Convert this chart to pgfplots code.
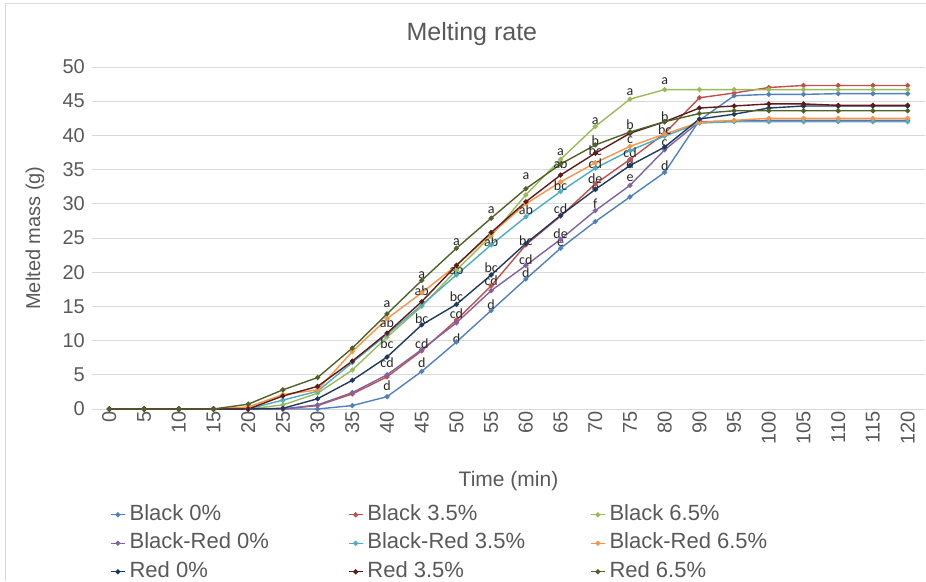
\documentclass[border=0pt]{standalone}
\usepackage{fontspec}
\setmainfont{Liberation Sans}
\newfontfamily\lblfont{Carlito}
\usepackage{pgfplots}
\usepackage{pgfplotstable}
\pgfplotsset{compat=1.18}
\definecolor{cBlackA}{HTML}{4F81BD}
\definecolor{cBlackB}{HTML}{C0504D}
\definecolor{cBlackC}{HTML}{9BBB59}
\definecolor{cBRA}{HTML}{8064A2}
\definecolor{cBRB}{HTML}{4BACC6}
\definecolor{cBRC}{HTML}{F79646}
\definecolor{cRedA}{HTML}{1F3A5F}
\definecolor{cRedB}{HTML}{5E1B19}
\definecolor{cRedC}{HTML}{4F6228}
\definecolor{gridgray}{HTML}{D9D9D9}
\definecolor{textgray}{HTML}{595959}
\definecolor{lblgray}{HTML}{262626}

% idx: 0..23  <->  time 0,5,...,80,90,...,120
\pgfplotstableread{
x  bA    bB    bC    brA   brB   brC   rA    rB    rC
0  0     0     0     0     0     0     0     0     0
1  0     0     0     0     0     0     0     0     0
2  0     0     0     0     0     0     0     0     0
3  0     0     0     0     0     0     0     0     0
4  0     0     0     0     0     0.3   0     0     0.7
5  0     0     0.6   0     1.3   2.1   0.1   1.9   2.8
6  0     0.5   2.3   0.6   2.6   2.8   1.5   3.3   4.6
7  0.5   2.2   5.7   2.4   6.8   8.4   4.2   7.0   8.9
8  1.8   4.7   10.5  5.0   10.9  13.2  7.6   11.1  13.9
9  5.5   8.5   15.0  8.7   15.2  17.0  12.3  15.7  18.8
10 9.8   13.0  20.3  12.6  19.6  21.0  15.3  21.0  23.5
11 14.4  18.0  25.3  17.3  24.0  25.6  19.6  25.8  27.9
12 19.0  24.0  31.3  21.0  28.1  30.0  24.2  30.3  32.2
13 23.5  28.2  36.5  24.8  31.8  33.2  28.3  34.2  35.8
14 27.4  32.9  41.3  29.0  35.2  36.0  32.1  37.4  38.6
15 31.0  36.5  45.3  32.7  37.8  38.4  35.6  40.3  40.5
16 34.6  40.3  46.7  37.9  39.9  40.2  38.3  42.0  42.0
17 42.2  45.5  46.7  42.0  41.8  41.9  42.4  44.0  43.2
18 45.8  46.2  46.7  42.1  42.0  42.2  43.1  44.3  43.6
19 46.0  47.0  46.7  42.2  42.0  42.5  44.0  44.6  43.6
20 46.0  47.3  46.7  42.2  42.0  42.5  44.3  44.6  43.6
21 46.1  47.3  46.7  42.2  42.0  42.5  44.3  44.4  43.6
22 46.1  47.3  46.7  42.2  42.0  42.5  44.3  44.4  43.6
23 46.1  47.3  46.7  42.2  42.0  42.5  44.3  44.4  43.6
}\melt

\begin{document}
\begin{tikzpicture}
\path[use as bounding box] (0,0) rectangle (926pt,581pt);
\draw[gridgray, line width=1pt] (5pt,0pt) -- (5pt,577pt) -- (926pt,577pt);
\begin{axis}[
  at={(92pt,172pt)}, anchor=south west,
  width=833pt, height=342pt, scale only axis,
  xmin=-0.5, xmax=23.5, ymin=0, ymax=50,
  xtick={0,...,23},
  xticklabels={0,5,10,15,20,25,30,35,40,45,50,55,60,65,70,75,80,90,95,100,105,110,115,120},
  ytick={0,5,...,50},
  /pgf/number format/assume math mode=true,
  tick label style={font=\fontsize{20}{24}\selectfont, text=textgray},
  x tick label style={rotate=90, anchor=east, inner sep=2pt},
  y tick label style={inner sep=3pt, xshift=-4pt},
  axis line style={draw=none},
  tick style={draw=none},
  ymajorgrids, grid style={gridgray, line width=1pt},
  title={Melting rate},
  title style={font=\fontsize{25}{30}\selectfont, text=textgray, at={(axis description cs:0.456,1.079)}, anchor=center, yshift=0pt},
  xlabel={Time (min)},
  xlabel style={font=\fontsize{21}{25}\selectfont, text=textgray, at={(axis description cs:0.5,-0.21)}, anchor=center},
  ylabel={Melted mass (g)},
  ylabel style={font=\fontsize{20}{24}\selectfont, text=textgray, at={(axis description cs:-0.0684,0.5)}, anchor=center, rotate=0},
  every axis plot/.append style={line width=1.4pt, mark=*, mark size=1.8pt},
  legend columns=3,
  legend image code/.code={\draw[mark repeat=2,mark phase=2,#1] plot coordinates {(0pt,0pt) (7pt,0pt) (14pt,0pt)};},
  legend style={draw=none, fill=none, inner sep=0pt,
    at={(axis description cs:0.0216,-0.278)}, anchor=north west,
    font=\fontsize{22}{26}\selectfont, text=textgray,
    nodes={inner sep=1pt, text height=15pt, text depth=4pt, anchor=west},
    row sep=7.5pt, column sep=3pt,
    /tikz/column 2/.style={column sep=78pt},
    /tikz/column 4/.style={column sep=64pt}},
  legend cell align=left,
]
\addplot[color=cBlackA, mark options={fill=cBlackA}] table[x=x,y=bA]{\melt};
\addlegendentry{Black 0\%}
\addplot[color=cBlackB, mark options={fill=cBlackB}] table[x=x,y=bB]{\melt};
\addlegendentry{Black 3.5\%}
\addplot[color=cBlackC, mark options={fill=cBlackC}] table[x=x,y=bC]{\melt};
\addlegendentry{Black 6.5\%}
\addplot[color=cBRA, mark options={fill=cBRA}] table[x=x,y=brA]{\melt};
\addlegendentry{Black-Red 0\%}
\addplot[color=cBRB, mark options={fill=cBRB}] table[x=x,y=brB]{\melt};
\addlegendentry{Black-Red 3.5\%}
\addplot[color=cBRC, mark options={fill=cBRC}] table[x=x,y=brC]{\melt};
\addlegendentry{Black-Red 6.5\%}
\addplot[color=cRedA, mark options={fill=cRedA}] table[x=x,y=rA]{\melt};
\addlegendentry{Red 0\%}
\addplot[color=cRedB, mark options={fill=cRedB}] table[x=x,y=rB]{\melt};
\addlegendentry{Red 3.5\%}
\addplot[color=cRedC, mark options={fill=cRedC}] table[x=x,y=rC]{\melt};
\addlegendentry{Red 6.5\%}

\begin{scope}[every node/.style={font=\lblfont\fontsize{14}{16}\selectfont, text=lblgray, inner sep=0pt, anchor=center}]
% 40 min
\node at (axis cs:8,15.4) {a};
\node at (axis cs:8,12.6) {ab};
\node at (axis cs:8,9.6) {bc};
\node at (axis cs:8,6.8) {cd};
\node at (axis cs:8,3.4) {d};
% 45
\node at (axis cs:9,19.5) {a};
\node at (axis cs:9,17.3) {ab};
\node at (axis cs:9,13.2) {bc};
\node at (axis cs:9,9.6) {cd};
\node at (axis cs:9,6.7) {d};
% 50
\node at (axis cs:10,24.4) {a};
\node at (axis cs:10,20.3) {ab};
\node at (axis cs:10,16.4) {bc};
\node at (axis cs:10,13.9) {cd};
\node at (axis cs:10,10.3) {d};
% 55
\node at (axis cs:11,29.1) {a};
\node at (axis cs:11,24.5) {ab};
\node at (axis cs:11,20.7) {bc};
\node at (axis cs:11,18.8) {cd};
\node at (axis cs:11,15.2) {d};
% 60
\node at (axis cs:12,34.0) {a};
\node at (axis cs:12,29.1) {ab};
\node at (axis cs:12,24.6) {bc};
\node at (axis cs:12,21.8) {cd};
\node at (axis cs:12,20.0) {d};
% 65
\node at (axis cs:13,37.5) {a};
\node at (axis cs:13,35.9) {ab};
\node at (axis cs:13,32.6) {bc};
\node at (axis cs:13,29.3) {cd};
\node at (axis cs:13,25.7) {de};
\node at (axis cs:13,24.2) {e};
% 70
\node at (axis cs:14,42.1) {a};
\node at (axis cs:14,39.3) {b};
\node at (axis cs:14,37.8) {bc};
\node at (axis cs:14,35.8) {cd};
\node at (axis cs:14,33.7) {de};
\node at (axis cs:14,32.3) {e};
\node at (axis cs:14,30.0) {f};
% 75
\node at (axis cs:15,46.3) {a};
\node at (axis cs:15,41.5) {b};
\node at (axis cs:15,39.3) {c};
\node at (axis cs:15,37.4) {cd};
\node at (axis cs:15,35.9) {d};
\node at (axis cs:15,33.7) {e};
% 80
\node at (axis cs:16,47.9) {a};
\node at (axis cs:16,42.8) {b};
\node at (axis cs:16,40.9) {bc};
\node at (axis cs:16,38.9) {c};
\node at (axis cs:16,35.5) {d};
\end{scope}
\end{axis}
\end{tikzpicture}
\end{document}
